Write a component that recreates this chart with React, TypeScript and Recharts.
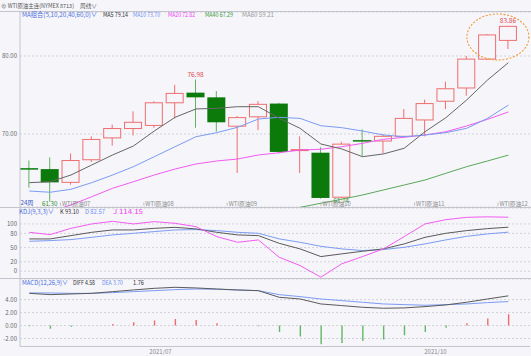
import React from 'react';
import { ComposedChart, Bar, Line, XAxis, YAxis, CartesianGrid, Cell, ReferenceDot } from 'recharts';

// ---------- data ----------
const weeks = [
  '2021-05-31', '2021-06-07', '2021-06-14', '2021-06-21', '2021-06-28', '2021-07-05',
  '2021-07-12', '2021-07-19', '2021-07-26', '2021-08-02', '2021-08-09', '2021-08-16',
  '2021-08-23', '2021-08-30', '2021-09-06', '2021-09-13', '2021-09-20', '2021-09-27',
  '2021-10-04', '2021-10-11', '2021-10-18', '2021-10-25', '2021-11-01', '2021-11-08',
];
const open = [65.6, 65.5, 63.8, 66.7, 69.5, 70.7, 71.1, 74.0, 75.3, 74.7, 71.0, 72.2, 73.9, 67.9, 67.6, 61.9, 69.2, 69.1, 69.7, 71.8, 74.2, 75.9, 79.6, 82.0];
const high = [66.6, 67.0, 67.5, 69.7, 71.2, 72.9, 74.2, 76.3, 76.98, 75.5, 72.3, 74.2, 74.0, 69.7, 68.3, 69.0, 70.6, 70.0, 73.2, 74.4, 76.7, 80.0, 82.8, 83.86];
const low = [63.1, 61.3, 63.5, 66.4, 68.5, 69.8, 70.8, 72.0, 70.8, 70.3, 65.0, 70.5, 67.5, 65.0, 61.7, 61.74, 67.1, 67.5, 69.6, 69.7, 73.2, 74.9, 79.5, 80.9];
const close = [65.5, 63.8, 66.6, 69.3, 70.7, 71.5, 74.0, 75.2, 74.7, 71.5, 72.1, 73.8, 67.7, 68.0, 61.8, 68.7, 69.1, 69.7, 72.0, 73.9, 75.8, 79.6, 82.7, 83.8];

const ma5 = [63.76, 63.88, 64.74, 66.03, 67.31, 68.46, 70.38, 72.14, 73.21, 73.29, 73.5, 73.5, 72.01, 70.73, 68.72, 68.08, 67.09, 67.44, 68.17, 70.29, 72.09, 74.36, 76.92, 79.14];
const ma10 = [62.69, 62.53, 62.91, 63.76, 64.74, 65.81, 67.09, 68.37, 69.65, 70.17, 70.86, 71.92, 72.14, 72.0, 71.06, 70.81, 70.38, 69.87, 69.65, 69.87, 70.17, 70.73, 72.01, 73.7];
const ma20 = [59.3, 60.0, 60.9, 61.96, 63.04, 63.88, 64.74, 65.51, 66.15, 66.54, 66.79, 67.31, 67.6, 67.95, 68.04, 68.37, 68.8, 69.32, 69.58, 69.87, 70.29, 71.03, 71.88, 72.82];
const ma40 = [null, null, null, null, null, null, null, null, null, null, null, 59.4, 60.0, 60.6, 61.12, 61.63, 62.18, 62.82, 63.46, 64.1, 64.96, 65.81, 66.54, 67.29];

const kK = [68.3, 68.3, 75.3, 82.3, 87.3, 87.3, 90.7, 92.8, 89.5, 82.3, 76.8, 75.3, 59.0, 47.2, 31.0, 36.7, 42.2, 47.2, 57.8, 71.7, 80.2, 85.9, 90.1, 93.1];
const kD = [63.3, 64.8, 66.9, 71.7, 76.8, 80.2, 83.8, 87.3, 88.0, 85.9, 82.3, 80.2, 68.4, 61.2, 52.7, 47.2, 43.7, 45.8, 50.6, 57.8, 66.2, 73.8, 78.9, 82.57];
const kJ = [82.3, 77.4, 90.7, 100.0, 105.5, 100.0, 104.9, 101.3, 94.3, 73.2, 61.2, 66.2, 29.5, 12.0, -12.6, 15.6, 31.0, 47.2, 73.2, 100.0, 109.0, 114.0, 115.0, 114.15];

const diff = [4.97, 4.77, 4.87, 4.97, 5.23, 5.49, 5.74, 5.9, 5.8, 5.64, 5.49, 5.38, 4.36, 4.1, 3.33, 3.08, 2.82, 2.67, 2.72, 2.92, 3.18, 3.59, 4.1, 4.58];
const dea = [5.03, 5.03, 4.97, 4.97, 5.08, 5.23, 5.38, 5.54, 5.64, 5.6, 5.49, 5.38, 4.77, 4.46, 4.1, 3.85, 3.59, 3.33, 3.23, 3.13, 3.23, 3.33, 3.54, 3.7];
const macdHist = [-0.1, -0.5, -0.2, 0.0, 0.25, 0.5, 0.77, 1.0, 0.87, 0.35, 0.05, -0.1, -1.0, -1.7, -2.9, -2.7, -2.4, -2.15, -1.5, -1.0, -0.35, 0.35, 1.1, 1.76];

const highMarks = [8, 23];
const lowMarks = [1, 15];
const contracts = [
  { at: 1.5, label: 'WTI原油07' },
  { at: 5.5, label: 'WTI原油08' },
  { at: 9.5, label: 'WTI原油09' },
  { at: 14.0, label: 'WTI原油10' },
  { at: 18.5, label: 'WTI原油11' },
  { at: 22.5, label: 'WTI原油12' },
];
const dateTicks = [6.3, 19.5];
const dateLabels = ['2021/07', '2021/10'];

const maLegend = [
  { text: 'MA组合(5,10,20,40,60,0)∨', color: '#4a6ee0' },
  { text: 'MA5 79.14', color: '#333333' },
  { text: 'MA10 73.70', color: '#6f8ff0' },
  { text: 'MA20 72.82', color: '#f040f0' },
  { text: 'MA40 67.29', color: '#3c9a3c' },
  { text: 'MA60 59.21', color: '#9a9a9a' },
];
const kdjLegend = [
  { text: 'KDJ(9,3,3)∨', color: '#4a6ee0' },
  { text: 'K 93.10', color: '#333333' },
  { text: 'D 82.57', color: '#6f8ff0' },
  { text: 'J 114.15', color: '#f040f0' },
];
const macdLegend = [
  { text: 'MACD(12,26,9)∨', color: '#4a6ee0' },
  { text: 'DIFF 4.58', color: '#333333' },
  { text: 'DEA 3.70', color: '#6f8ff0' },
  { text: '1.76', color: '#333333' },
];

const rows = weeks.map((w, i) => ({
  i, w,
  o: open[i], h: high[i], l: low[i], c: close[i],
  range: [low[i], high[i]],
  ma5: ma5[i], ma10: ma10[i], ma20: ma20[i], ma40: ma40[i],
  k: kK[i], d: kD[i], j: kJ[i],
  diff: diff[i], dea: dea[i], hist: macdHist[i],
}));

// ---------- styling ----------
const W = 531;
const BG = '#f5f5fa';
const FONT = '"Noto Sans CJK SC", "Noto Sans", sans-serif';
const RED = '#ee6f6f';
const GREEN_FILL = '#0b7a0b';
const GREEN_WICK = '#5fb35f';
const X_DOMAIN: [number, number] = [-0.446, 24.04];
const AXIS_COLOR = '#c4c4cc';
const GRID_COLOR = '#d2d2da';
const tickStyle = { fontSize: 6, fill: '#6a6a6a', fontFamily: FONT };

const Candle = (props: any) => {
  const { x, y, width, height, payload, index } = props;
  if (!payload) return null;
  const { o, h, l, c } = payload;
  const yTop = Math.min(y, y + height);
  const hh = Math.abs(height);
  const py = (p: number) => yTop + ((h - p) / (h - l)) * hh;
  const up = c >= o;
  const cx = x + width / 2;
  const bTop = py(Math.max(o, c));
  const bBot = py(Math.min(o, c));
  const bh = Math.max(bBot - bTop, 1);
  const col = up ? RED : GREEN_WICK;
  return (
    <g>
      <line x1={cx} x2={cx} y1={yTop} y2={yTop + hh} stroke={col} strokeWidth={1} />
      {up ? (
        <rect x={x + 0.5} y={bTop} width={width - 1} height={bh} fill={BG} stroke={RED} strokeWidth={1} />
      ) : (
        <rect x={x} y={bTop} width={width} height={bh} fill={GREEN_FILL} stroke={GREEN_FILL} strokeWidth={bh < 1.5 ? 0.5 : 0} />
      )}
      {highMarks.includes(index) && (
        <text x={cx} y={yTop - 2.5} textAnchor="middle" fontSize={6.5} fill="#e24c4c" fontFamily={FONT}>
          {h.toFixed(2)}
        </text>
      )}
      {lowMarks.includes(index) && (
        <text x={cx} y={yTop + hh + 4.3} textAnchor="middle" fontSize={6.2} fill="#2f8f2f" fontFamily={FONT}>
          {l.toFixed(2)}
        </text>
      )}
    </g>
  );
};

const Ellipse = (p: any) => (
  <ellipse cx={p.cx} cy={p.cy} rx={31} ry={23} fill="none" stroke="#f39a38" strokeWidth={1.1} strokeDasharray="2 1.6" />
);

const ContractLabel = (label: string) => (p: any) => (
  <g>
    <line x1={p.cx} x2={p.cx} y1={p.cy - 1.5} y2={p.cy + 1.5} stroke="#999" strokeWidth={0.6} />
    <text x={p.cx + 1.5} y={p.cy + 2.2} fontSize={5.8} fill="#8a8a8a" fontFamily={FONT}>{label}</text>
  </g>
);

const Legend = ({ items, y, spans }: { items: any[]; y: number; spans: [number, number][] }) => (
  <>
    {items.map((it, k) => (
      <text key={k} x={spans[k][0]} y={y} fontSize={6.4} fill={it.color} fontFamily={FONT}
        textLength={spans[k][1] - spans[k][0]} lengthAdjust="spacingAndGlyphs">
        {it.text}
      </text>
    ))}
  </>
);

export default function App() {
  return (
    <div style={{ position: 'absolute', left: 0, top: 0, width: W, height: 356, background: BG, overflow: 'hidden', fontFamily: FONT }}>
      {/* price panel */}
      <div style={{ position: 'absolute', left: 0, top: 12 }}>
        <ComposedChart width={W} height={195} data={rows} margin={{ top: 0, right: 1, bottom: 0, left: 0 }}>
          <CartesianGrid horizontal vertical={false} stroke={GRID_COLOR} strokeDasharray="2 2" />
          <XAxis dataKey="i" type="number" domain={X_DOMAIN} hide allowDataOverflow />
          <YAxis domain={[60.64, 85.64]} ticks={[70, 80]} interval={0} allowDataOverflow width={20} tickSize={0} tickMargin={3}
            tick={tickStyle} tickFormatter={(v: number) => v.toFixed(2)} axisLine={{ stroke: AXIS_COLOR }} tickLine={false} />
          <Line dataKey="ma40" stroke="#5aa85a" strokeWidth={1} dot={false} isAnimationActive={false} />
          <Line dataKey="ma20" stroke="#f25cf2" strokeWidth={1} dot={false} isAnimationActive={false} />
          <Line dataKey="ma10" stroke="#7c9cf2" strokeWidth={1} dot={false} isAnimationActive={false} />
          <Bar dataKey="range" barSize={18} shape={Candle} isAnimationActive={false} />
          <Line dataKey="ma5" stroke="#666666" strokeWidth={1} dot={false} isAnimationActive={false} />
          {contracts.map((ct) => (
            <ReferenceDot key={ct.label} x={ct.at} y={61.0} r={1} ifOverflow="visible" shape={ContractLabel(ct.label)} />
          ))}
          <ReferenceDot x={22.5} y={82.44} r={1} ifOverflow="visible" shape={Ellipse} />
        </ComposedChart>
      </div>

      {/* KDJ panel */}
      <div style={{ position: 'absolute', left: 0, top: 207.5 }}>
        <ComposedChart width={W} height={71.5} data={rows} margin={{ top: 0, right: 1, bottom: 0, left: 0 }}>
          <CartesianGrid horizontal vertical={false} stroke={GRID_COLOR} strokeDasharray="2 2" />
          <XAxis dataKey="i" type="number" domain={X_DOMAIN} hide allowDataOverflow />
          <YAxis domain={[-17.5, 133.7]} ticks={[0, 20, 50, 80, 100]} interval={0} allowDataOverflow width={20} tickSize={0} tickMargin={3}
            tick={tickStyle} axisLine={{ stroke: AXIS_COLOR }} tickLine={false} />
          <Line dataKey="d" stroke="#7c9cf2" strokeWidth={1} dot={false} isAnimationActive={false} />
          <Line dataKey="k" stroke="#5a5a5a" strokeWidth={1} dot={false} isAnimationActive={false} />
          <Line dataKey="j" stroke="#f25cf2" strokeWidth={1} dot={false} isAnimationActive={false} />
        </ComposedChart>
      </div>

      {/* MACD panel */}
      <div style={{ position: 'absolute', left: 0, top: 278.5 }}>
        <ComposedChart width={W} height={77.5} data={rows} margin={{ top: 0, right: 1, bottom: 0, left: 0 }}>
          <CartesianGrid horizontal vertical={false} stroke={GRID_COLOR} strokeDasharray="2 2" />
          <XAxis dataKey="i" type="number" domain={X_DOMAIN} allowDataOverflow height={10} ticks={dateTicks}
            tickFormatter={(v: number) => dateLabels[dateTicks.indexOf(v)] || ''} tick={{ ...tickStyle, fill: '#8a8a8a' }}
            tickSize={0} tickMargin={3} axisLine={{ stroke: AXIS_COLOR }} tickLine={false} interval={0} />
          <YAxis domain={[-3.23, 7.18]} ticks={[-2, 0, 2, 4]} interval={0} allowDataOverflow width={20} tickSize={0} tickMargin={3}
            tick={tickStyle} tickFormatter={(v: number) => v.toFixed(2)} axisLine={{ stroke: AXIS_COLOR }} tickLine={false} />
          <Bar dataKey="hist" barSize={1.4} isAnimationActive={false}>
            {rows.map((r) => (
              <Cell key={r.i} fill={r.hist >= 0 ? '#f06a6a' : '#62b862'} />
            ))}
          </Bar>
          <Line dataKey="dea" stroke="#7c9cf2" strokeWidth={1} dot={false} isAnimationActive={false} />
          <Line dataKey="diff" stroke="#5a5a5a" strokeWidth={1} dot={false} isAnimationActive={false} />
        </ComposedChart>
      </div>

      {/* overlay: header, legends, frames */}
      <svg width={W} height={356} style={{ position: 'absolute', left: 0, top: 0, pointerEvents: 'none' }}>
        <line x1={0} x2={W} y1={11.5} y2={11.5} stroke={AXIS_COLOR} />
        <line x1={0} x2={W} y1={207.5} y2={207.5} stroke={AXIS_COLOR} />
        <line x1={0} x2={W} y1={278.5} y2={278.5} stroke={AXIS_COLOR} />
        <text x={1} y={7.5} fontSize={5.6} fill="#555" fontFamily={FONT} textLength={73} lengthAdjust="spacingAndGlyphs">⊕ WTI原油主连(NYMEX 8713)</text>
        <text x={80} y={7.8} fontSize={6.2} fill="#555" fontFamily={FONT} textLength={17} lengthAdjust="spacingAndGlyphs">周线∨</text>
        <Legend items={maLegend} y={16.5} spans={[[22, 97], [103, 128], [133, 160], [168, 195], [205, 233], [242, 274]]} />
        <Legend items={kdjLegend} y={213.8} spans={[[19, 54], [60, 79], [85, 105], [113, 143]]} />
        <Legend items={macdLegend} y={284.6} spans={[[22, 68], [73, 95], [102, 123], [133, 144]]} />
        <text x={20.5} y={205} fontSize={6.2} fill="#3a55c8" fontFamily={FONT}>24周</text>
      </svg>
    </div>
  );
}
